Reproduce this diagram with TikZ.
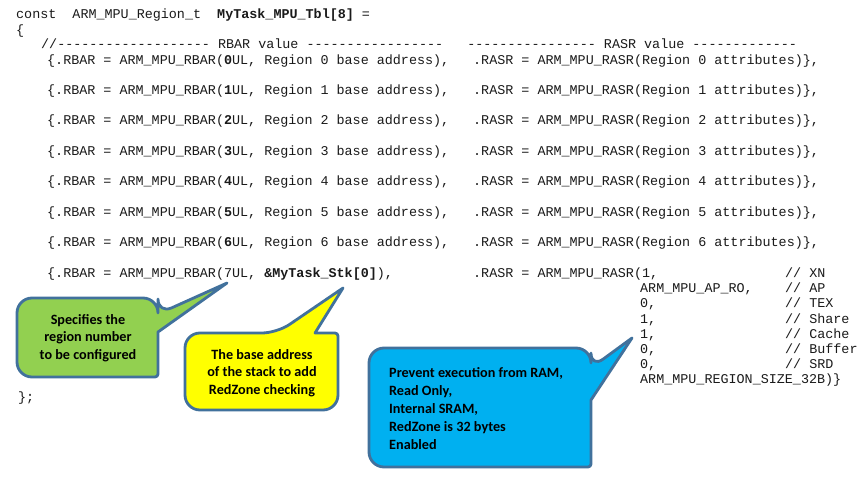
\documentclass[tikz,border=0pt]{standalone}
\usepackage{fontspec}
\setmonofont{Liberation Mono}
\newfontfamily\callfont{Carlito}
\definecolor{cgreen}{HTML}{92D050}
\definecolor{cyellow}{HTML}{FFFF00}
\definecolor{cblue}{HTML}{00B0F0}
\definecolor{cborder}{HTML}{41719C}
\definecolor{codeink}{HTML}{1A1A1A}
\newcommand\codefont{\fontsize{13.4}{16}\selectfont\ttfamily}
\newcommand\ctfont{\fontsize{14.2}{17.6}\selectfont\callfont\bfseries}
\newcommand\ctfontb{\fontsize{14.2}{18}\selectfont\callfont\bfseries}
\begin{document}
\begin{tikzpicture}[x=1pt,y=-1pt,
  code/.style={anchor=base west, inner sep=0pt, font=\codefont, text=codeink},
  callout/.style={draw=cborder, line width=2.8pt, line join=round},
  calltext/.style={inner sep=0pt, font=\ctfont, text=black}]
\useasboundingbox[fill=white] (0,0) rectangle (863,485);

% --- code ---
\node[code] (decl) at (16,18.5) {const~~ARM\_MPU\_Region\_t~~\textbf{MyTask\_MPU\_Tbl[8]} =};
\node[code] (open) at (16,34.5) {\{};
\node[code] (cmt) at (41,48.5) {//-------------------~RBAR value~-----------------~~~----------------~RASR value~-------------};
\foreach \i in {0,...,6}{
  \node[code] (rbar\i) at (47,{64+\i*30.45}) {\{.RBAR = ARM\_MPU\_RBAR(\textbf{\i}UL, Region \i\ base address),};
  \node[code] (rasr\i) at (473,{64+\i*30.45}) {.RASR = ARM\_MPU\_RASR(Region \i\ attributes)\},};
}
\node[code] (rbar7) at (47,277.2) {\{.RBAR = ARM\_MPU\_RBAR(7UL, \textbf{\&MyTask\_Stk[0]}),};
\node[code] (rasr7) at (473,277.2) {.RASR = ARM\_MPU\_RASR(1,};
\node[code] (cXN) at (785,277.2) {// XN};
\node[code] (vAP) at (640,292.6) {ARM\_MPU\_AP\_RO,};
\node[code] (cAP) at (785,292.6) {// AP};
\node[code] (vTEX) at (640,307.8) {0,};
\node[code] (cTEX) at (785,307.8) {// TEX};
\node[code] (vSh) at (640,323) {1,};
\node[code] (cSh) at (785,323) {// Share};
\node[code] (vCa) at (640,338.2) {1,};
\node[code] (cCa) at (785,338.2) {// Cache};
\node[code] (vBu) at (640,353.4) {0,};
\node[code] (cBu) at (785,353.4) {// Buffer};
\node[code] (vSRD) at (640,368.6) {0,};
\node[code] (cSRD) at (785,368.6) {// SRD};
\node[code] (vSize) at (640,383.8) {ARM\_MPU\_REGION\_SIZE\_32B)\}};
\node[code] (close) at (18,401) {\};};

% --- callouts ---
\path[callout, fill=cgreen] (17,340) [rounded corners=15] -- (17,298) -- (158,298) -- (158,314)
  [sharp corners] -- (227,283) -- (158,332) [rounded corners=3] -- (158,377)
  [rounded corners=15] -- (17,377) -- cycle;
\node[calltext, align=center] (gtext) at (88,338) {Specifies the\\region number\\to be configured};

\path[callout, fill=cyellow] (185,370) [rounded corners=15] -- (185,333) -- (277,333)
  [sharp corners] -- (343,288) -- (315,333) [rounded corners=3] -- (338,333)
  [rounded corners=15] -- (338,410) -- (185,410) -- cycle;
\node[calltext, align=center] (ytext) at (262,373) {The base address\\of the stack to add\\RedZone checking};

\path[callout, fill=cblue] (369,400) [rounded corners=15] -- (369,348) -- (591,348) -- (591,368)
  [sharp corners] -- (632,338) -- (591,400) [rounded corners=3] -- (591,467)
  [rounded corners=15] -- (369,467) -- cycle;
\node[calltext, align=left, anchor=west, font=\ctfontb] (btext) at (389,409) {Prevent execution from RAM,\\Read Only,\\Internal SRAM,\\RedZone is 32 bytes\\Enabled};
\end{tikzpicture}
\end{document}
